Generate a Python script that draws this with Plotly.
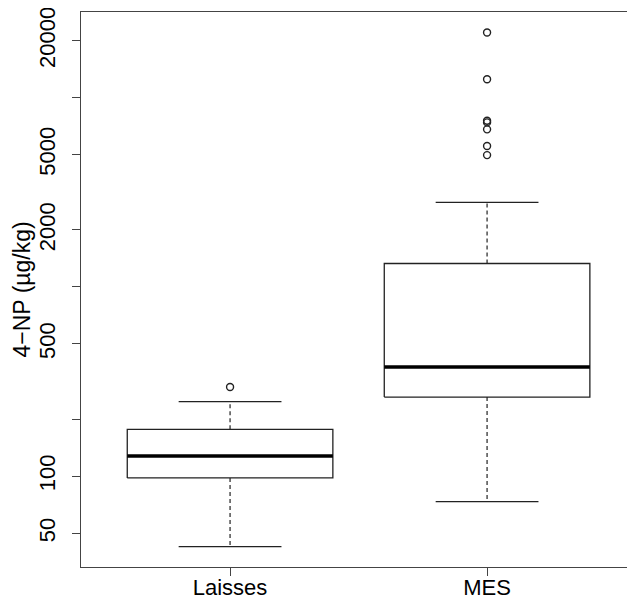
import plotly.graph_objects as go

categories = ["Laisses", "MES"]
lower_whisker = [42.5, 73.5]
q1 = [98, 262]
median = [128, 378]
q3 = [177, 1330]
upper_whisker = [248, 2800]
outliers = [[296], [22100, 12500, 7550, 7400, 6800, 5550, 4970]]

y_tickvals = [50, 100, 200, 500, 1000, 2000, 5000, 10000, 20000]
y_ticktext = ["50", "100", "", "500", "", "2000", "5000", "", "20000"]

FONT = "Liberation Sans, Arial, Helvetica, sans-serif"
LINE = "#222222"
half_box = 0.4
half_cap = 0.2

fig = go.Figure()
for i, cat in enumerate(categories):
    x = i + 1
    # box
    fig.add_trace(go.Scatter(
        x=[x - half_box, x + half_box, x + half_box, x - half_box, x - half_box],
        y=[q1[i], q1[i], q3[i], q3[i], q1[i]],
        mode="lines", line=dict(color=LINE, width=1.3), hoverinfo="skip"))
    # median
    fig.add_trace(go.Scatter(
        x=[x - half_box, x + half_box], y=[median[i], median[i]],
        mode="lines", line=dict(color="black", width=3.5), hoverinfo="skip"))
    # whiskers (dashed)
    for a, b in ((q3[i], upper_whisker[i]), (q1[i], lower_whisker[i])):
        fig.add_trace(go.Scatter(
            x=[x, x], y=[a, b], mode="lines",
            line=dict(color=LINE, width=1.2, dash="4px,3px"), hoverinfo="skip"))
    # caps
    for w in (upper_whisker[i], lower_whisker[i]):
        fig.add_trace(go.Scatter(
            x=[x - half_cap, x + half_cap], y=[w, w], mode="lines",
            line=dict(color=LINE, width=1.3), hoverinfo="skip"))
    # outliers
    fig.add_trace(go.Scatter(
        x=[x] * len(outliers[i]), y=outliers[i], mode="markers",
        marker=dict(symbol="circle-open", size=7, color=LINE,
                    line=dict(width=1.4, color=LINE)),
        hoverinfo="skip"))

# the page body has an 8px default margin, so the figure is sized to fit
fig.update_layout(
    width=627, height=592,
    margin=dict(l=73, r=0, t=4, b=33, autoexpand=False),
    paper_bgcolor="white", plot_bgcolor="white",
    showlegend=False,
    font=dict(family=FONT, size=22, color="black"),
    xaxis=dict(
        range=[0.42, 2.5756], tickmode="array", tickvals=[1, 2],
        ticktext=categories, ticks="outside", ticklen=8, tickwidth=1.2,
        tickcolor="#444", showline=True, linecolor="#444", linewidth=1.3,
        mirror=True, showgrid=False, zeroline=False, automargin=False,
        ticklabelstandoff=-8,
        tickfont=dict(size=22, family=FONT)),
    yaxis=dict(
        type="log", range=[1.5206, 4.4524], tickmode="array",
        tickvals=y_tickvals, ticktext=y_ticktext, tickangle=-90,
        ticks="outside", ticklen=8, tickwidth=1.2, tickcolor="#444",
        showline=True, linecolor="#444", linewidth=1.3, mirror=False,
        showgrid=False, zeroline=False, automargin=False,
        ticklabelstandoff=8, ticklabeloverflow="allow",
        tickfont=dict(size=22, family=FONT)),
)
fig.add_annotation(
    text="4\u2212NP (\u00b5g/kg)", textangle=-90, showarrow=False,
    xref="paper", yref="paper", x=0, y=0.5, xanchor="center", yanchor="middle",
    xshift=-60, font=dict(size=23, family=FONT, color="black"))

fig.write_html("out.html")
